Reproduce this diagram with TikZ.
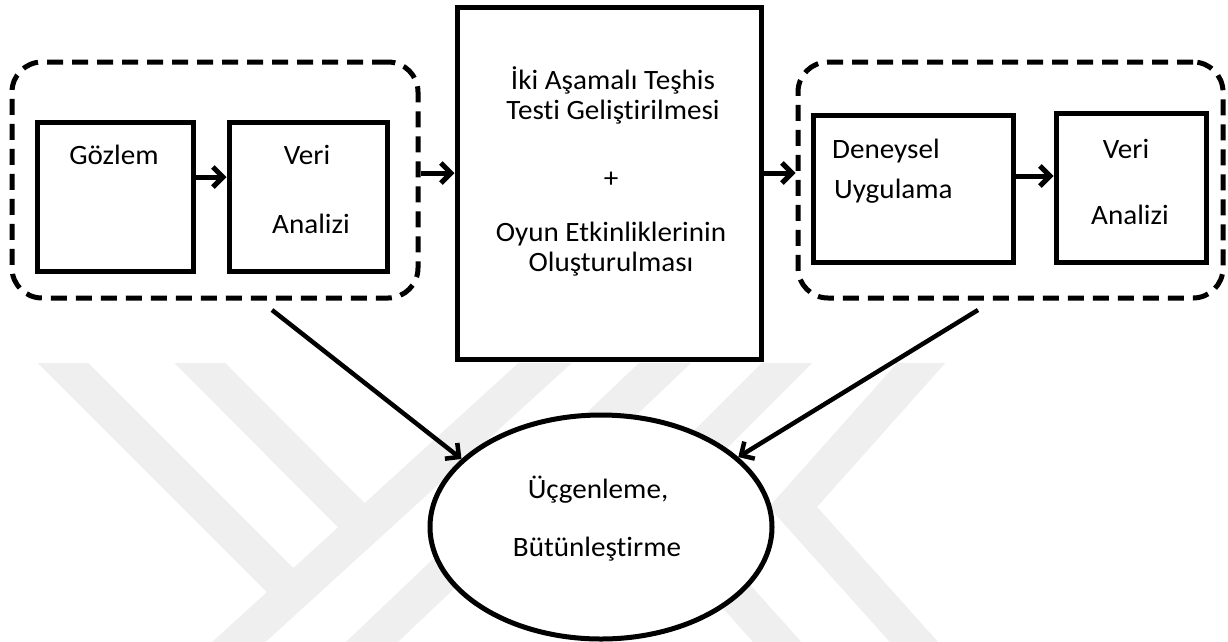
\documentclass[tikz,border=0pt]{standalone}
\usepackage{fontspec}
\setmainfont{Carlito}[FakeStretch=1.04,Ligatures=NoCommon]
\usetikzlibrary{arrows.meta,shapes.geometric,calc}
\definecolor{wm}{RGB}{239,239,239}
\begin{document}
\begin{tikzpicture}[x=1pt,y=-1pt,
  box/.style={draw, line width=5pt, fill=white, rectangle, inner sep=0pt},
  grp/.style={draw, line width=5pt, dash pattern=on 16pt off 9pt, rounded corners=30pt, rectangle, inner sep=0pt},
  txt/.style={anchor=base, inner sep=0pt, font=\fontsize{28}{30}\selectfont},
  arr/.style={line width=5pt, -{Straight Barb[length=10pt,width=20pt]}},
  larr/.style={line width=4.5pt, -{Straight Barb[length=10pt,width=20pt]}},
  band/.style={draw=wm, line width=36pt}]
\useasboundingbox (0,0) rectangle (1228,641);
% faint watermark
\begin{scope}
\clip (0,363) rectangle (1228,641);
\draw[band] (43,343) -- (293,593);
\draw[band] (180,343) -- (364,528);
\draw[band] (567,343) -- (218,661);
\draw[band] (686,343) -- (352,661);
\draw[band, line join=miter] (807,343) -- (650,500) -- (796,663);
\draw[band, line join=miter] (939,343) -- (793,507) -- (931,661);
\end{scope}
% boxes
\node[grp, minimum width=406pt, minimum height=236pt] (lgroup) at (215,180) {};
\node[box, minimum width=156pt, minimum height=149pt] (gozlem) at (115,196.5) {};
\node[box, minimum width=158pt, minimum height=149pt] (veri1) at (308,196.5) {};
\node[box, minimum width=304pt, minimum height=352pt] (center) at (609,183) {};
\node[grp, minimum width=425pt, minimum height=236pt] (rgroup) at (1010.5,180) {};
\node[box, minimum width=200pt, minimum height=147pt] (deney) at (913,188.5) {};
\node[box, minimum width=150pt, minimum height=149pt] (veri2) at (1131,187.5) {};
\node[draw, ellipse, line width=5pt, fill=white, minimum width=342pt, minimum height=224pt, inner sep=0pt] (ell) at (601,527) {};
% texts
\node[txt] (t1) at (114,164) {Gözlem};
\node[txt] (t2) at (307,164) {Veri};
\node[txt] (t3) at (311,233) {Analizi};
\node[txt] (t4) at (613,89) {İki Aşamalı Teşhis};
\node[txt] (t5) at (613,119) {Testi Geliştirilmesi};
\node[txt] (t6) at (611,187) {+};
\node[txt] (t7) at (611,241) {Oyun Etkinliklerinin};
\node[txt] (t8) at (611,271) {Oluşturulması};
\node[txt, anchor=base west] (t9) at (832,158) {Deneysel};
\node[txt, anchor=base west] (t10) at (834,198) {Uygulama};
\node[txt] (t11) at (1126,158) {Veri};
\node[txt] (t12) at (1130,224) {Analizi};
\node[txt] (t13) at (598,498) {Üçgenleme,};
\node[txt] (t14) at (597,556) {Bütünleştirme};
% connectors
\coordinate (m1) at (0,173);
\coordinate (m2) at (0,177);
\coordinate (m3) at (0,176);
\draw[arr] (gozlem.east |- m2) -- (veri1.west |- m2);
\draw[arr] (lgroup.east |- m1) -- (center.west |- m1);
\draw[arr] (center.east |- m1) -- (rgroup.west |- m1);
\draw[arr] (deney.east |- m3) -- (veri2.west |- m3);
\coordinate (ls) at (272,310);
\coordinate (rs) at (978,310);
\draw[larr] (ls) -- (ell.154);
\draw[larr] (rs) -- (ell.27);
\end{tikzpicture}
\end{document}
